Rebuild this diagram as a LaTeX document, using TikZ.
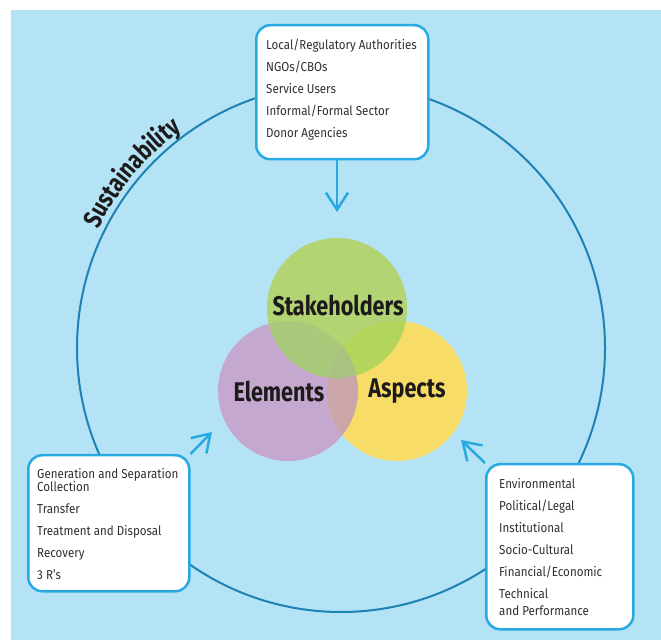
\documentclass[tikz,border=0pt]{standalone}
\usepackage{fontspec}
\setmainfont{Fira Sans}[FakeStretch=0.89]
\newfontfamily\labelfont{Fira Sans}[FakeStretch=0.8]
\usetikzlibrary{arrows.meta,decorations.text}

\definecolor{bgblue}{HTML}{B4E3F5}
\definecolor{ringblue}{HTML}{1E82B4}
\definecolor{boxblue}{HTML}{29A9E1}
\definecolor{vgreen}{HTML}{B2D473}
\definecolor{vpurple}{HTML}{C5A8D0}
\definecolor{vyellow}{HTML}{F8DC68}
\definecolor{gp}{HTML}{A9C97B}
\definecolor{gy}{HTML}{B4D55B}
\definecolor{py}{HTML}{CBA6A9}
\definecolor{tri}{HTML}{A9C27F}
\definecolor{bodytext}{HTML}{332F31}
\definecolor{labeltext}{HTML}{1C1A1A}

\begin{document}
\begin{tikzpicture}[x=1pt,y=1pt,
  ring/.style={draw=ringblue, line width=2pt},
  venn/.style={circle, minimum size=140pt, inner sep=0pt, draw=none},
  vlabel/.style={font=\labelfont\bfseries\fontsize{27}{27}\selectfont, text=labeltext, inner sep=0pt},
  box/.style={draw=boxblue, line width=2.5pt, fill=white, rounded corners=14pt, anchor=north west, inner sep=0pt},
  boxtext/.style={anchor=north west, inner sep=0pt, align=left, text=bodytext, font=\fontsize{13}{22}\selectfont},
  arr/.style={draw=boxblue, line width=2.5pt, -{Straight Barb[length=17pt, width=22pt]}}
]
\useasboundingbox (0,0) rectangle (661,640);
\fill[bgblue] (11,0) rectangle (661,630);

% outer sustainability ring and its label
\coordinate (ringc) at (341,292);
\draw[ring] (ringc) circle[radius=264pt];
\path[decorate, decoration={text along path, text align=center,
  text={|\labelfont\bfseries\fontsize{26}{26}\selectfont\color{labeltext}|Sustainability}}]
  ([shift={(164:270pt)}]ringc) arc[start angle=164, end angle=116, radius=270pt];

% three overlapping circles
\coordinate (cS) at (337,332);
\coordinate (cE) at (288,249);
\coordinate (cA) at (397,249);
\node[venn, fill=vpurple] (elem) at (cE) {};
\node[venn, fill=vyellow] (asp) at (cA) {};
\node[venn, fill=vgreen] (stake) at (cS) {};
\begin{scope}
  \clip (cS) circle[radius=70pt];
  \fill[gp] (cE) circle[radius=70pt];
\end{scope}
\begin{scope}
  \clip (cS) circle[radius=70pt];
  \fill[gy] (cA) circle[radius=70pt];
\end{scope}
\begin{scope}
  \clip (cE) circle[radius=70pt];
  \fill[py] (cA) circle[radius=70pt];
\end{scope}
\begin{scope}
  \clip (cE) circle[radius=70pt];
  \clip (cA) circle[radius=70pt];
  \fill[tri] (cS) circle[radius=70pt];
\end{scope}
\node[vlabel] (lS) at (338,335) {Stakeholders};
\node[vlabel] (lE) at (279,249) {Elements};
\node[vlabel] (lA) at (407,249) {Aspects};

% text boxes
\node[box, minimum width=172pt, minimum height=134pt] (top) at (255,616) {};
\node[boxtext] (topt) at (266,601) {Local/Regulatory Authorities\\NGOs/CBOs\\Service Users\\Informal/Formal Sector\\Donor Agencies};

\node[box, minimum width=161pt, minimum height=136pt] (lbox) at (27,186) {};
\node[boxtext] (lboxt) at (37,172) {Generation and Separation\\[-9pt]Collection\\Transfer\\Treatment and Disposal\\Recovery\\3 R’s};

\node[box, minimum width=147pt, minimum height=165pt] (rbox) at (485,177) {};
\node[boxtext] (rboxt) at (499,162) {Environmental\\Political/Legal\\Institutional\\Socio-Cultural\\Financial/Economic\\Technical\\[-5pt]and Performance};

% arrows pointing at the circles
\coordinate (tipT) at (337,428);
\coordinate (tipL) at (212,208);
\coordinate (tipR) at (461,200);
\draw[arr] (top.south -| tipT) -- (tipT);
\draw[arr] (lbox.north east) -- (tipL);
\draw[arr] (rbox.north west) -- (tipR);
\end{tikzpicture}
\end{document}
